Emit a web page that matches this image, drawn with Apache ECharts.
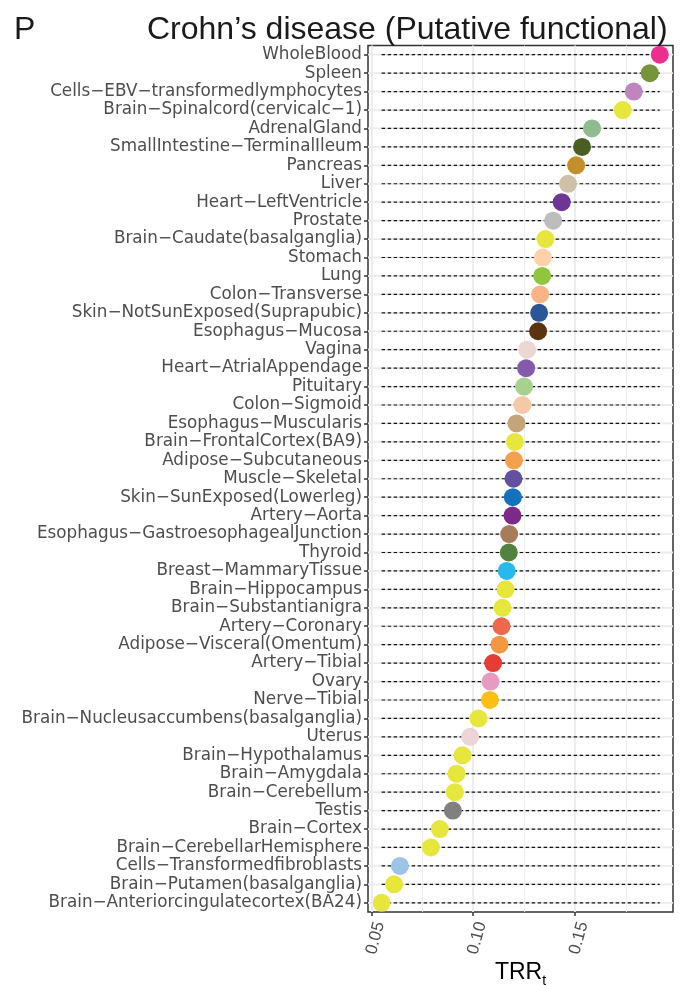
<!DOCTYPE html>
<html>
<head>
<meta charset="utf-8">
<script src="https://cdn.jsdelivr.net/npm/echarts@6/dist/echarts.min.js"></script>
<style>html,body{margin:0;padding:0;background:#fff}#c{width:684px;height:985px}</style>
</head>
<body>
<div id="c"></div>
<script>
const categories = [
  "WholeBlood","Spleen","Cells−EBV−transformedlymphocytes","Brain−Spinalcord(cervicalc−1)","AdrenalGland",
  "SmallIntestine−TerminalIleum","Pancreas","Liver","Heart−LeftVentricle","Prostate",
  "Brain−Caudate(basalganglia)","Stomach","Lung","Colon−Transverse","Skin−NotSunExposed(Suprapubic)",
  "Esophagus−Mucosa","Vagina","Heart−AtrialAppendage","Pituitary","Colon−Sigmoid",
  "Esophagus−Muscularis","Brain−FrontalCortex(BA9)","Adipose−Subcutaneous","Muscle−Skeletal","Skin−SunExposed(Lowerleg)",
  "Artery−Aorta","Esophagus−GastroesophagealJunction","Thyroid","Breast−MammaryTissue","Brain−Hippocampus",
  "Brain−Substantianigra","Artery−Coronary","Adipose−Visceral(Omentum)","Artery−Tibial","Ovary",
  "Nerve−Tibial","Brain−Nucleusaccumbens(basalganglia)","Uterus","Brain−Hypothalamus","Brain−Amygdala",
  "Brain−Cerebellum","Testis","Brain−Cortex","Brain−CerebellarHemisphere","Cells−Transformedfibroblasts",
  "Brain−Putamen(basalganglia)","Brain−Anteriorcingulatecortex(BA24)"
];
const trrValues = [
  0.1917,0.1868,0.1789,0.1735,0.1584,
  0.1535,0.1506,0.1466,0.1435,0.1393,
  0.1355,0.1342,0.1339,0.1329,0.1324,
  0.1319,0.1265,0.1260,0.1250,0.1242,
  0.1213,0.1205,0.1200,0.1198,0.1195,
  0.1193,0.1177,0.1175,0.1165,0.1159,
  0.1144,0.1139,0.1129,0.1098,0.1085,
  0.1082,0.1026,0.0985,0.0948,0.0918,
  0.0910,0.0900,0.0836,0.0792,0.0640,
  0.0611,0.0550
];
const colors = [
  "#EE2E8F","#76953A","#C084BF","#E6E63D","#8FBC8F",
  "#4A5D23","#C28F2A","#CFC0A8","#6E3596","#BDBDBD",
  "#E6E63D","#FFD1A8","#8FC63E","#F9B486","#2A5597",
  "#5C3310","#EBD8D0","#835BA8","#A8D190","#F6C8A8",
  "#C4A47B","#E6E63D","#F3A14F","#6450A0","#1272BE",
  "#7B2A87","#A67C5B","#538140","#26B9EC","#E6E63D",
  "#E6E63D","#EE684C","#F39841","#E73B36","#E89BC0",
  "#FDBF14","#E6E63D","#EDD5D5","#E6E63D","#E6E63D",
  "#E6E63D","#808080","#E6E63D","#E6E63D","#9DC3E5",
  "#E6E63D","#E6E63D"
];
const xTicks = [0.05, 0.10, 0.15];
const xMin = 0.0483, xMax = 0.1982;

const lo = Math.min(...trrValues), hi = Math.max(...trrValues);
const FONT = "Liberation Sans, Arial, Helvetica, sans-serif";
const LABEL_FONT = "DejaVu Sans, sans-serif";

const chart = echarts.init(document.getElementById('c'), null, {renderer: 'canvas'});
chart.setOption({
  backgroundColor: '#fff',
  animation: false,
  title: [
    {text: 'P', left: 9, top: 9, textStyle: {fontFamily: FONT, fontSize: 32, fontWeight: 'normal', color: '#1a1a1a'}},
    {text: 'Crohn’s disease (Putative functional)', left: 142, top: 9, textStyle: {fontFamily: FONT, fontSize: 32, fontWeight: 'normal', color: '#1a1a1a'}}
  ],
  grid: {left: 368, right: 11, top: 45.5, bottom: 73, show: true, borderColor: '#333', borderWidth: 1.5, backgroundColor: 'transparent', containLabel: false, outerBoundsMode: 'none'},
  xAxis: {
    type: 'value', min: xMin, max: xMax, splitNumber: 3,
    axisLine: {show: false},
    axisTick: {show: true, customValues: xTicks, length: 4, lineStyle: {color: '#333', width: 1.5}},
    axisLabel: {customValues: xTicks, formatter: v => v.toFixed(2), rotate: 75, verticalAlign: 'top', fontFamily: FONT, fontSize: 17, color: '#4D4D4D', margin: 8},
    splitLine: {show: true, lineStyle: {color: '#EBEBEB', width: 1.8}},
    minorTick: {show: false, splitNumber: 2},
    minorSplitLine: {show: true, lineStyle: {color: '#EBEBEB', width: 0.9}},
    name: '{a|TRR}{b|t}', nameLocation: 'middle', nameGap: 46, nameMoveOverlap: false,
    nameTextStyle: {rich: {
      a: {fontFamily: FONT, fontSize: 23, color: '#000'},
      b: {fontFamily: FONT, fontSize: 14, color: '#000', padding: [16, 0, 0, 0]}
    }}
  },
  yAxis: {
    type: 'category', data: categories, inverse: true,
    axisLine: {show: false},
    axisTick: {show: true, alignWithLabel: true, length: 4, lineStyle: {color: '#333', width: 1.5}},
    axisLabel: {interval: 0, fontFamily: LABEL_FONT, fontSize: 16.8, color: '#4D4D4D', margin: 6},
    splitLine: {show: false}
  },
  series: [
    {
      type: 'custom', z: 2,
      data: categories.map((c, i) => [lo, i, hi]),
      encode: {x: [0, 2], y: 1},
      renderItem: (params, api) => {
        const i = api.value(1);
        const p1 = api.coord([api.value(0), i]);
        const p2 = api.coord([api.value(2), i]);
        const cs = params.coordSys;
        return {type: 'group', children: [
          {type: 'line', shape: {x1: cs.x, y1: p1[1], x2: cs.x + cs.width, y2: p1[1]}, style: {stroke: '#EBEBEB', lineWidth: 1.8}},
          {type: 'line', shape: {x1: p1[0], y1: p1[1], x2: p2[0], y2: p2[1]}, style: {stroke: '#111', lineWidth: 1.2, lineDash: [3.5, 2.5]}}
        ]};
      }
    },
    {
      type: 'scatter', z: 3, symbolSize: 18,
      data: trrValues.map((v, i) => ({value: [v, i], itemStyle: {color: colors[i], opacity: 1}}))
    }
  ]
});
</script>
</body>
</html>
